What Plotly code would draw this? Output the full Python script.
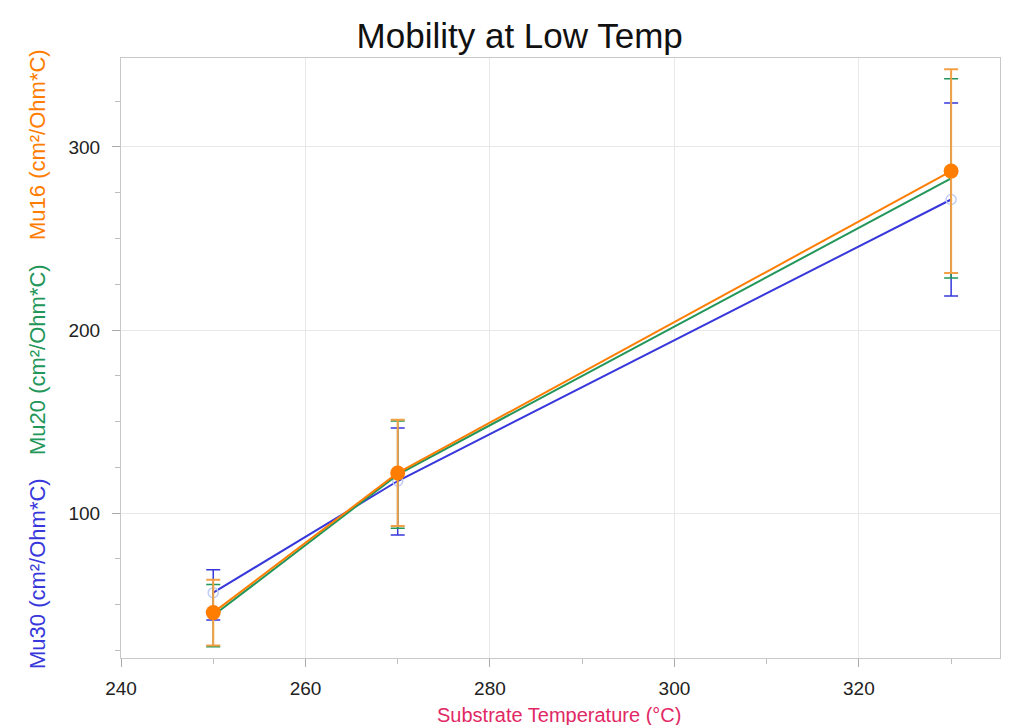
import plotly.graph_objects as go

temps = [250, 270, 330]

mu30 = [56.5, 117.5, 271.3]
mu30_err_plus = [12.5, 29.0, 52.7]
mu30_err_minus = [15.0, 29.5, 52.7]

mu20 = [44.0, 121.0, 282.8]
mu20_err = [17.0, 29.3, 54.4]

mu16 = [45.6, 121.9, 286.8]
mu16_err = [18.0, 29.0, 55.7]

title_text = "Mobility at Low Temp"
x_title = "Substrate Temperature (°C)"
y_titles = ["Mu30 (cm²/Ohm*C)", "Mu20 (cm²/Ohm*C)", "Mu16 (cm²/Ohm*C)"]

BLUE = "rgb(55,55,220)"
GREEN = "rgb(35,150,90)"
ORANGE = "rgb(255,125,0)"
FONT = "Liberation Sans, Arial, sans-serif"

L, R, T, B = 121, 23, 58, 67
W, H = 1023, 725
PW, PH = W - L - R, H - T - B

fig = go.Figure()

fig.add_trace(go.Scatter(
    x=temps, y=mu30, mode="lines+markers", name="Mu30",
    line=dict(color=BLUE, width=2),
    marker=dict(symbol="circle-open", size=10, color="rgb(190,205,245)", line=dict(width=1.5)),
    error_y=dict(type="data", symmetric=False, array=mu30_err_plus, arrayminus=mu30_err_minus,
                 color=BLUE, thickness=1.5, width=7),
))
fig.add_trace(go.Scatter(
    x=temps, y=mu20, mode="lines", name="Mu20",
    line=dict(color=GREEN, width=2),
    error_y=dict(type="data", array=mu20_err, color=GREEN, thickness=1.5, width=7),
))
fig.add_trace(go.Scatter(
    x=temps, y=mu16, mode="lines+markers", name="Mu16",
    line=dict(color=ORANGE, width=2),
    marker=dict(symbol="circle", size=15, color=ORANGE),
    error_y=dict(type="data", array=mu16_err, color="rgb(242,160,70)", thickness=2, width=7),
))

fig.update_layout(
    width=W, height=H,
    margin=dict(l=L, r=R, t=T, b=B),
    paper_bgcolor="white", plot_bgcolor="white",
    showlegend=False,
    font=dict(family=FONT, size=15, color="#222"),
    title=dict(text=title_text, x=0.508, xanchor="center", y=1 - 36 / H, yanchor="middle",
               font=dict(family=FONT, size=35, color="#111")),
)

fig.update_xaxes(
    range=[240, 335.3], dtick=20, tick0=240, automargin=False,
    showgrid=True, gridcolor="rgb(232,232,232)", gridwidth=1,
    showline=True, linecolor="rgb(200,200,200)", linewidth=1, mirror=True,
    ticks="outside", ticklen=8, tickcolor="rgb(170,170,170)",
    ticklabelstandoff=5,
    tickfont=dict(size=19, color="#222"),
    minor=dict(dtick=10, tick0=240, ticks="outside", ticklen=5, tickcolor="rgb(190,190,190)", showgrid=False),
    zeroline=False,
)
fig.update_yaxes(
    range=[20.8, 348.6], dtick=100, tick0=0, automargin=False,
    showgrid=True, gridcolor="rgb(232,232,232)", gridwidth=1,
    showline=True, linecolor="rgb(200,200,200)", linewidth=1, mirror=True,
    ticks="outside", ticklen=8, tickcolor="rgb(170,170,170)",
    ticklabelstandoff=8,
    tickfont=dict(size=19, color="#222"),
    minor=dict(dtick=25, tick0=0, ticks="outside", ticklen=5, tickcolor="rgb(190,190,190)", showgrid=False),
    zeroline=False,
)

# x-axis title
fig.add_annotation(
    text=x_title, xref="paper", yref="paper",
    x=(559 - L) / PW, xanchor="center",
    y=-(715 - (T + PH)) / PH, yanchor="middle",
    showarrow=False, font=dict(family=FONT, size=20, color="rgb(225,40,100)"),
)

# stacked, coloured y-axis titles
for txt, col, yc in [(y_titles[0], BLUE, 574), (y_titles[1], GREEN, 360), (y_titles[2], ORANGE, 145)]:
    fig.add_annotation(
        text=txt, xref="paper", yref="paper",
        x=(37 - L) / PW, xanchor="center",
        y=1 - (yc - T) / PH, yanchor="middle",
        textangle=-90, showarrow=False,
        font=dict(family=FONT, size=22, color=col),
    )

fig.write_html("out.html")
